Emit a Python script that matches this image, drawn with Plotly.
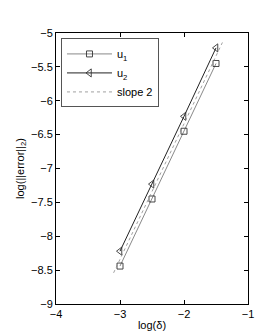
import plotly.graph_objects as go

delta_log = [-3, -2.5, -2, -1.5]
u1_err = [-8.44, -7.45, -6.45, -5.45]
u2_err = [-8.22, -7.23, -6.23, -5.22]
slope_x = [-3.1, -1.4]
slope_y = [-8.54, -5.14]

fig = go.Figure()
fig.add_trace(go.Scatter(x=delta_log, y=u1_err, mode="lines+markers", name="u<sub>1</sub>",
                         line=dict(color="#555", width=0.7),
                         marker=dict(symbol="square-open", size=6, color="#333", line=dict(width=0.9))))
fig.add_trace(go.Scatter(x=delta_log, y=u2_err, mode="lines+markers", name="u<sub>2</sub>",
                         line=dict(color="#222", width=1),
                         marker=dict(symbol="triangle-left-open", size=7, color="#333", line=dict(width=0.9))))
fig.add_trace(go.Scatter(x=slope_x, y=slope_y, mode="lines", name="slope 2",
                         line=dict(color="#888", width=0.8, dash="dot")))

axis_common = dict(showgrid=False, zeroline=False, showline=True, linecolor="black", linewidth=1,
                   mirror="ticks", ticks="inside", ticklen=4, tickcolor="black",
                   tickfont=dict(family="Liberation Sans, Arial", size=11, color="black"))
fig.update_xaxes(range=[-4, -1], dtick=1, title=dict(text="log(δ)", standoff=2,
                 font=dict(family="Liberation Sans, Arial", size=11, color="black")), **axis_common)
fig.update_yaxes(range=[-9, -5], dtick=0.5, title=dict(text="log(||error||<sub>2</sub>)", standoff=4,
                 font=dict(family="Liberation Sans, Arial", size=11, color="black")), **axis_common)

fig.update_layout(width=266, height=333, margin=dict(l=48, r=26, t=25, b=37),
                  plot_bgcolor="white", paper_bgcolor="white",
                  font=dict(family="Liberation Sans, Arial", size=11, color="black"),
                  legend=dict(x=0.026, y=0.98, xanchor="left", yanchor="top",
                              bordercolor="#555", borderwidth=1, bgcolor="white",
                              font=dict(size=11), tracegroupgap=0, itemwidth=45))
fig.write_html("out.html")
